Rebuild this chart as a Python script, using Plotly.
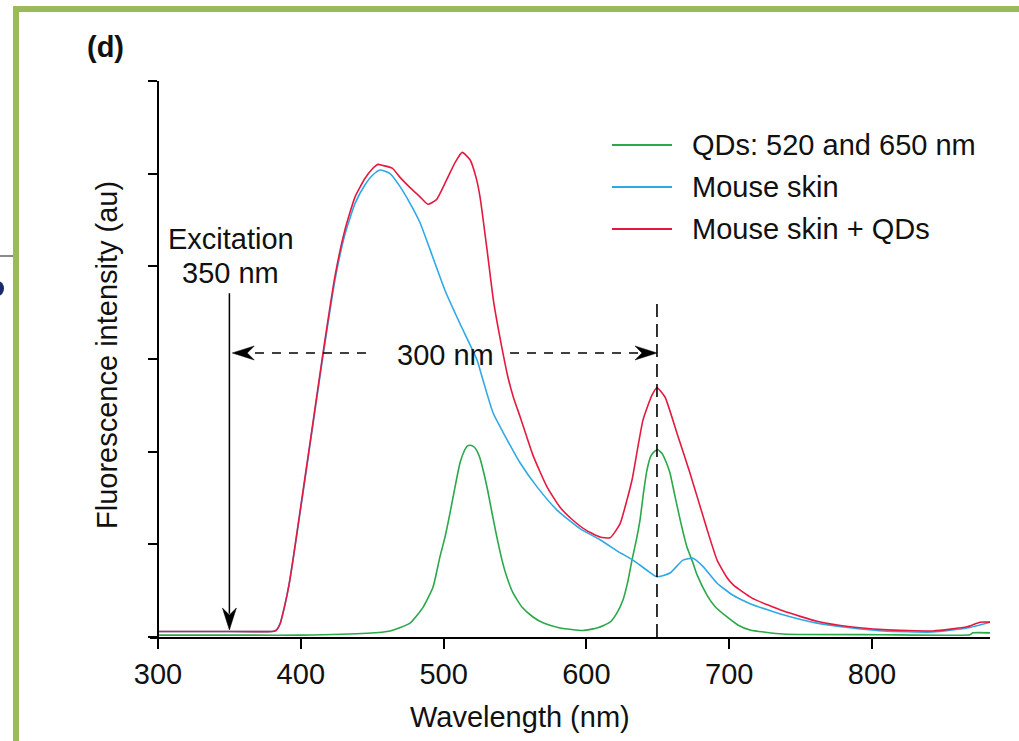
import plotly.graph_objects as go

# Emission spectra (wavelength in nm, intensity in arbitrary units)
qd_nm = [300, 367, 400, 446.4, 462.5, 476.5, 485.6, 492.6, 497.5, 501, 504.5, 508, 511.5,
         514.5, 516.5, 518.5, 520.5, 522.5, 525, 528, 531, 534, 537, 540.9, 544, 548.6,
         555, 562.6, 570, 581.5, 597.6, 608, 616.5, 621, 625.6, 629, 631.9, 635, 637.5,
         640, 642.4, 645, 647.5, 650, 653, 656, 658.5, 662, 666, 670.4, 674.6, 677.5,
         684.5, 690, 698.5, 706, 714.6, 737.7, 805, 868.6, 870.7, 882.6]
qd_int = [0.02, 0.02, 0.02, 0.04, 0.065, 0.15, 0.32, 0.54, 0.87, 1.08, 1.34, 1.62, 1.88,
          2.01, 2.06, 2.07, 2.06, 2.03, 1.95, 1.78, 1.57, 1.33, 1.10, 0.83, 0.66, 0.475,
          0.32, 0.216, 0.15, 0.097, 0.07, 0.10, 0.16, 0.25, 0.40, 0.60, 0.83, 1.05, 1.26,
          1.56, 1.80, 1.95, 2.00, 2.02, 1.98, 1.88, 1.77, 1.52, 1.24, 0.97, 0.80, 0.67,
          0.45, 0.33, 0.216, 0.13, 0.076, 0.032, 0.025, 0.025, 0.045, 0.045]

skin_nm = [300, 340, 380, 382.6, 385.4, 388.9, 391.7, 394.5, 399.4, 406.4, 415.5, 424, 431,
           438, 445, 450, 455.5, 462.5, 469.5, 476.5, 483.5, 490.5, 501, 511.5, 523.4, 527.6,
           534.6, 544.4, 553.5, 565.4, 579.4, 595.5, 609.5, 623.5, 632.6, 642.4, 649.4,
           658.5, 667.6, 674.6, 681.7, 691.5, 702.7, 714.6, 737.7, 761.5, 784.6, 807.7,
           842.7, 866.5, 882.6]
skin_int = [0.06, 0.06, 0.06, 0.07, 0.14, 0.35, 0.56, 0.83, 1.33, 2.07, 3.03, 3.86, 4.35,
            4.68, 4.88, 4.98, 5.04, 5.00, 4.86, 4.68, 4.47, 4.18, 3.74, 3.38, 2.99, 2.77,
            2.42, 2.13, 1.88, 1.62, 1.37, 1.17, 1.05, 0.91, 0.83, 0.72, 0.65,
            0.69, 0.83, 0.85, 0.76, 0.58, 0.45, 0.36, 0.24, 0.15, 0.10, 0.065,
            0.054, 0.097, 0.16]

mix_nm = [300, 340, 380, 382.6, 385.4, 388.9, 391.7, 394.5, 399.4, 406.4, 415.5, 424, 431,
          438, 445, 450, 454, 457, 464, 469.5, 476.5, 483.5, 489, 495, 502, 508, 513, 518.5,
          522.7, 525.5, 530.4, 535, 541.6, 545.1, 549, 553.5, 562.6, 572.4, 581.5, 590.6,
          600, 609.5, 616.5, 623.5, 628.4, 632, 639.6, 645.9, 649.4, 655, 663.4, 672.5,
          684.5, 691.5, 698.5, 703, 716, 738, 761.5, 784.6, 807.7, 842.7, 866.5, 875.6, 882.6]
mix_int = [0.06, 0.06, 0.06, 0.07, 0.14, 0.35, 0.56, 0.83, 1.35, 2.09, 3.06, 3.90, 4.40,
           4.75, 4.95, 5.05, 5.10, 5.09, 5.06, 4.96, 4.85, 4.75, 4.67, 4.72, 4.93, 5.12, 5.23,
           5.15, 4.96, 4.75, 4.18, 3.62, 3.06, 2.80, 2.58, 2.38, 1.96, 1.62, 1.40, 1.26,
           1.15, 1.08, 1.07, 1.22, 1.48, 1.70, 2.34, 2.61, 2.69, 2.59, 2.20, 1.77,
           1.16, 0.83, 0.64, 0.56, 0.42, 0.28, 0.17, 0.11, 0.08, 0.065, 0.11, 0.16, 0.16]

series_names = ["QDs: 520 and 650 nm", "Mouse skin", "Mouse skin + QDs"]
series_colors = ["#2aa84a", "#2fa9e6", "#e5193f"]

x_ticks = [300, 400, 500, 600, 700, 800]
y_ticks = [0, 1, 2, 3, 4, 5, 6]

FONT = "Liberation Sans, Arial, sans-serif"
INK = "#111111"

fig = go.Figure()
for nm, val, name, col in zip([qd_nm, skin_nm, mix_nm], [qd_int, skin_int, mix_int],
                              series_names, series_colors):
    fig.add_trace(go.Scatter(x=nm, y=val, mode="lines", name=name,
                             line=dict(color=col, width=1.6, shape="spline", smoothing=0.5),
                             showlegend=False))

fig.update_layout(
    width=1019, height=741,
    margin=dict(l=150, r=29, t=81, b=104),
    paper_bgcolor="white", plot_bgcolor="white",
    font=dict(family=FONT, size=29, color=INK),
    xaxis=dict(range=[294.4, 882.6], tickvals=x_ticks, ticks="outside", ticklen=10,
               tickwidth=1.6, tickcolor="black", showline=True, linecolor="black",
               linewidth=1.6, showgrid=False, zeroline=False,
               tickfont=dict(size=29, family=FONT, color=INK)),
    yaxis=dict(range=[0, 6], tickvals=y_ticks, ticks="outside", ticklen=9,
               tickwidth=1.6, tickcolor="black", showline=True, linecolor="black",
               linewidth=1.6, showgrid=False, zeroline=False, showticklabels=False,
               anchor="free", position=(158 - 150) / 840),
)

# Excitation arrow at 350 nm
fig.add_shape(type="line", x0=350, x1=350, y0=0.25, y1=3.71,
              line=dict(color="black", width=1.5))
fig.add_shape(type="path", xref="x", yref="y", xsizemode="pixel", ysizemode="pixel",
              xanchor=350, yanchor=0.076, path="M0,0 L-7,22 L0,15 L7,22 Z",
              fillcolor="black", line=dict(color="black", width=0.5))

# 300 nm Stokes shift: dashed double arrow
fig.add_shape(type="line", x0=356, x1=446, y0=3.065, y1=3.065,
              line=dict(color="black", width=1.5, dash="9px,8px"))
fig.add_shape(type="line", x0=546.5, x1=642, y0=3.065, y1=3.065,
              line=dict(color="black", width=1.5, dash="9px,8px"))
fig.add_shape(type="path", xref="x", yref="y", xsizemode="pixel", ysizemode="pixel",
              xanchor=352, yanchor=3.065, path="M0,0 L22,-7 L15,0 L22,7 Z",
              fillcolor="black", line=dict(color="black", width=0.5))
fig.add_shape(type="path", xref="x", yref="y", xsizemode="pixel", ysizemode="pixel",
              xanchor=649.4, yanchor=3.065, path="M0,0 L-22,-7 L-15,0 L-22,7 Z",
              fillcolor="black", line=dict(color="black", width=0.5))

# Marker at the 650 nm QD emission
fig.add_shape(type="line", x0=649.4, x1=649.4, y0=0, y1=3.67,
              line=dict(color="black", width=1.6, dash="13px,7px"))

annotations = [
    dict(text="Excitation", x=351, y=4.30, xref="x", yref="y"),
    dict(text="350 nm", x=351, y=3.93, xref="x", yref="y"),
    dict(text="300 nm", x=501, y=3.04, xref="x", yref="y"),
    dict(text="<b>(d)</b>", x=(105 - 150) / 840, y=(637 - 47) / 556, xref="paper", yref="paper"),
    dict(text="Fluorescence intensity (au)", x=(107 - 150) / 840, y=(637 - 355) / 556,
         xref="paper", yref="paper", textangle=-90),
    dict(text="Wavelength (nm)", x=(520 - 150) / 840, y=(637 - 717) / 556,
         xref="paper", yref="paper"),
]
for a in annotations:
    fig.add_annotation(showarrow=False, xanchor="center", yanchor="middle",
                       font=dict(family=FONT, size=29, color=INK), **a)

# Legend drawn as line samples with labels
legend_rows = [145, 187, 229]
for row, name, col in zip(legend_rows, series_names, series_colors):
    yp = (637 - row) / 556
    fig.add_shape(type="line", xref="paper", yref="paper",
                  x0=(612 - 150) / 840, x1=(672 - 150) / 840, y0=yp, y1=yp,
                  line=dict(color=col, width=1.8))
    fig.add_annotation(text=name, x=(690 - 150) / 840, y=yp, xref="paper", yref="paper",
                       xanchor="left", yanchor="middle", showarrow=False,
                       font=dict(family=FONT, size=29, color=INK))

# Page frame and the edge of the neighbouring panel
FRAME = "#9bbb59"
fig.add_shape(type="line", xref="paper", yref="paper", x0=(13 - 150) / 840, x1=1.06,
              y0=(637 - 9) / 556, y1=(637 - 9) / 556, line=dict(color=FRAME, width=6))
fig.add_shape(type="line", xref="paper", yref="paper", x0=(16 - 150) / 840, x1=(16 - 150) / 840,
              y0=(637 - 6) / 556, y1=(637 - 760) / 556, line=dict(color=FRAME, width=6))
fig.add_shape(type="line", xref="paper", yref="paper", x0=(-10 - 150) / 840, x1=(13 - 150) / 840,
              y0=(637 - 256) / 556, y1=(637 - 256) / 556, line=dict(color="#8a8a8a", width=2))
fig.add_shape(type="circle", xref="paper", yref="paper", x0=(-8 - 150) / 840, x1=(4 - 150) / 840,
              y0=(637 - 296) / 556, y1=(637 - 281) / 556, fillcolor="#1b2a6b",
              line=dict(width=0))

fig.write_html("out.html")
